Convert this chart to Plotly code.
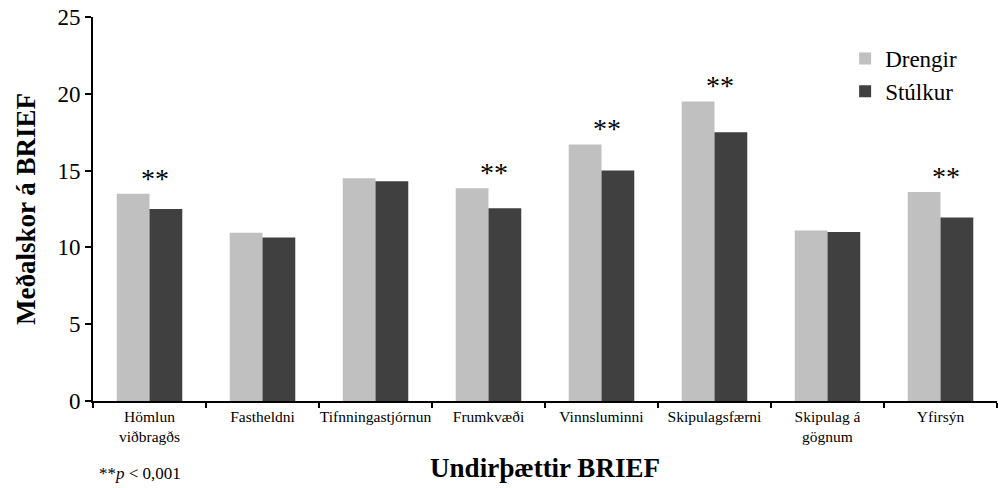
import plotly.graph_objects as go

categories = ["Hömlun<br>viðbragðs", "Fastheldni", "Tifnningastjórnun", "Frumkvæði",
              "Vinnsluminni", "Skipulagsfærni", "Skipulag á<br>gögnum", "Yfirsýn"]
drengir = [13.5, 10.95, 14.5, 13.85, 16.7, 19.5, 11.1, 13.6]
stulkur = [12.5, 10.65, 14.3, 12.55, 15.0, 17.5, 11.0, 11.95]
significant = [True, False, False, True, True, True, False, True]

font = "Liberation Serif, Times New Roman, serif"

fig = go.Figure()
fig.add_trace(go.Bar(name="Drengir", x=categories, y=drengir, marker_color="#c0c0c0",
                     marker_line_width=0))
fig.add_trace(go.Bar(name="Stúlkur", x=categories, y=stulkur, marker_color="#404040",
                     marker_line_width=0))

for c, d, s in zip(categories, drengir, significant):
    if s:
        fig.add_annotation(x=c, y=d, text="**", showarrow=False, yanchor="bottom",
                           xshift=5, yshift=-2, font=dict(family=font, size=28, color="black"))

fig.add_annotation(xref="paper", yref="paper", x=0.004, y=-0.19, xanchor="left", yanchor="middle",
                   text="**<i>p</i> < 0,001", showarrow=False,
                   font=dict(family=font, size=17, color="black"))

fig.update_layout(
    width=998, height=488,
    margin=dict(l=93, r=1, t=17, b=87),
    plot_bgcolor="white", paper_bgcolor="white",
    barmode="group", bargap=0.42, bargroupgap=0,
    font=dict(family=font, color="black"),
    legend=dict(x=0.832, y=0.948, xanchor="left", yanchor="top",
                font=dict(family=font, size=23), tracegroupgap=4, itemwidth=30),
    showlegend=True,
)
fig.update_xaxes(
    showline=True, linecolor="black", linewidth=2, automargin=False, tickangle=0,
    ticks="outside", tickson="boundaries", ticklen=5, tickwidth=2, tickcolor="black",
    tickfont=dict(family=font, size=15.5),
    title=dict(text="<b>Undirþættir BRIEF</b>", font=dict(family=font, size=27), standoff=14),
)
fig.update_yaxes(
    range=[0, 25], dtick=5, showline=True, linecolor="black", linewidth=2, automargin=False,
    ticks="outside", ticklen=6, tickwidth=2, tickcolor="black",
    showgrid=False, zeroline=False,
    tickfont=dict(family=font, size=23),
    title=dict(text="<b>Meðalskor á BRIEF</b>", font=dict(family=font, size=27), standoff=14),
)

fig.write_html("out.html")
